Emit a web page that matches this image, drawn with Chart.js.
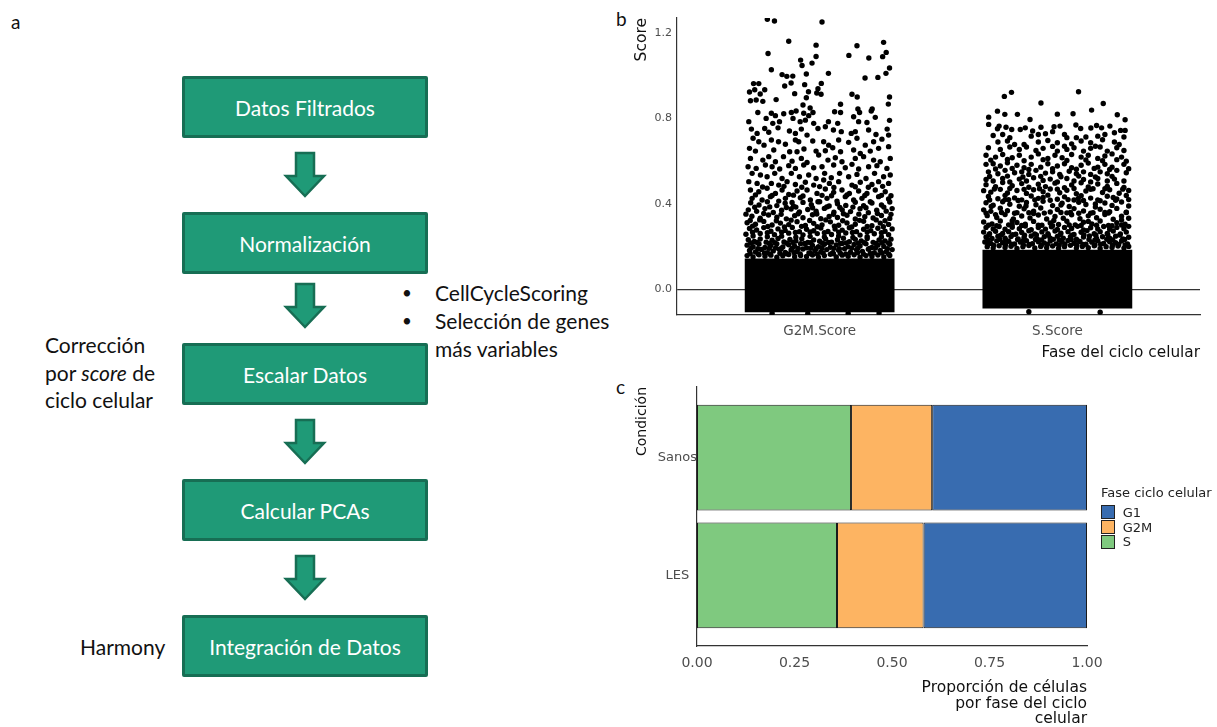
<!DOCTYPE html>
<html><head><meta charset="utf-8">
<script src="https://cdn.jsdelivr.net/npm/chart.js@4"></script>
<style>
body{margin:0;width:1217px;height:727px;background:#fff;position:relative;overflow:hidden;font-family:Lato,'Open Sans',sans-serif;}
.box{position:absolute;left:182px;width:246px;height:62px;box-sizing:border-box;background:#1f9a77;border:3px solid #176e54;border-radius:2px;color:#fff;font-size:21px;display:flex;align-items:center;justify-content:center;}
.side{position:absolute;font-size:21px;color:#111;line-height:27.5px;white-space:nowrap;}
.bul{position:absolute;font-size:17px;color:#111;line-height:27.5px;}
.plab{position:absolute;font-size:19px;color:#111;line-height:20px;}
canvas{position:absolute;}
#legend{position:absolute;left:1101px;top:485px;font-family:'DejaVu Sans';font-size:13px;color:#222;}
#legend .t{line-height:16px;margin-bottom:4px;white-space:nowrap;}
#legend .k{display:flex;align-items:center;height:14.7px;}
#legend .sw{width:14px;height:14px;box-sizing:border-box;border:1px solid #222;margin-right:7.7px;}
</style></head>
<body>
<div class="plab" style="left:11px;top:12px;">a</div>
<div class="plab" style="left:616px;top:9px;">b</div>
<div class="plab" style="left:616px;top:377px;">c</div>

<div id="flow"></div>
<svg id="arrows" width="620" height="727" style="position:absolute;left:0;top:0;"></svg>

<div class="bul" style="left:402px;top:279px;">•</div>
<div class="side" style="left:435px;top:279px;">CellCycleScoring</div>
<div class="bul" style="left:402px;top:307px;">•</div>
<div class="side" style="left:435px;top:307px;">Selección de genes<br>más variables</div>
<div class="side" style="left:45px;top:331px;">Corrección<br>por <i>score</i> de<br>ciclo celular</div>
<div class="side" style="left:80px;top:633px;">Harmony</div>

<canvas id="cb" width="592" height="370" style="left:625px;top:0px;"></canvas>
<canvas id="cc" width="592" height="352" style="left:625px;top:375px;"></canvas>
<div id="legend"></div>

<script>
// ---------- panel a: flowchart text ----------
const flowSteps = ['Datos Filtrados','Normalización','Escalar Datos','Calcular PCAs','Integración de Datos'];
const flowTops = [76, 212, 343, 479, 615];
const flow = document.getElementById('flow');
flowSteps.forEach((t,i)=>{
  const d=document.createElement('div'); d.className='box'; d.style.top=flowTops[i]+'px'; d.textContent=t; flow.appendChild(d);
});
const svg=document.getElementById('arrows');
[153,284,420,556].forEach(y0=>{
  const p=document.createElementNS('http://www.w3.org/2000/svg','polygon');
  const x0=285;
  const pts=[[11,0],[29,0],[29,23],[39,23],[20,43],[1,23],[11,23]].map(q=>(x0+q[0])+','+(y0+q[1])).join(' ');
  p.setAttribute('points',pts); p.setAttribute('fill','#1f9a77'); p.setAttribute('stroke','#176e54'); p.setAttribute('stroke-width','2.5');
  svg.appendChild(p);
});

// ---------- panel b data ----------
const scoreCategories = ['G2M.Score','S.Score'];
const scoreTicks = [0, 0.4, 0.8, 1.2];
const denseLow = [-0.107, -0.089];
const denseHigh = [0.145, 0.185];
const g2mPoints = [
[0.78,1.264],[0.81,1.256],[1.01,1.251],[0.87,1.161],[0.985,1.143],[1.157,1.14],[1.269,1.156],[0.783,1.104],[1.123,1.095],[0.985,1.09],
[1.207,1.083],[1.265,1.089],[1.28,1.109],[0.92,1.073],[0.926,1.048],[0.968,1.059],[0.797,1.028],[1.037,1.011],[0.944,1.008],[0.842,1.005],
[0.862,0.997],[0.887,0.998],[1.294,1.036],[1.279,1.011],[1.245,0.992],[1.191,0.989],[0.722,0.963],[0.744,0.963],[0.88,0.966],[0.853,0.952],
[0.937,0.958],[1.007,0.964],[0.993,0.939],[0.705,0.924],[0.727,0.934],[0.769,0.934],[0.75,0.914],[0.895,0.916],[0.953,0.925],[0.988,0.919],
[1.006,0.913],[0.944,0.897],[1.136,0.913],[1.158,0.9],[1.294,0.9],[0.709,0.883],[0.733,0.886],[0.761,0.88],[0.817,0.888],[0.93,0.863],
[1.088,0.866],[1.289,0.867],[0.96,0.849],[1.161,0.844],[1.221,0.844],
[0.74,0.828],[0.797,0.824],[0.814,0.813],[0.849,0.822],[0.881,0.828],[0.901,0.835],[0.933,0.824],[0.954,0.813],[0.972,0.828],[1.063,0.831],
[1.088,0.828],[1.143,0.808],[1.168,0.828],[1.217,0.835],[1.234,0.805],[0.702,0.785],[0.775,0.80],[0.803,0.777],[0.831,0.785],[0.888,0.80],
[0.918,0.785],[0.94,0.792],[0.975,0.777],[1.037,0.785],[1.076,0.777],[1.164,0.785],[1.199,0.781],[1.294,0.791],
[0.713,0.75],[0.737,0.73],[0.769,0.753],[0.786,0.735],[0.825,0.756],[0.873,0.741],[0.898,0.73],[0.923,0.75],[0.947,0.722],[0.993,0.753],
[1.024,0.761],[1.058,0.746],[1.091,0.738],[1.133,0.73],[1.15,0.738],[1.206,0.746],[1.237,0.725],[1.284,0.75],[1.29,0.722],[0.72,0.707],
[0.744,0.691],[0.766,0.675],[0.797,0.699],[0.827,0.691],[0.856,0.679],[0.898,0.699],[0.912,0.691],[0.971,0.694],[1.017,0.691],[1.038,0.675],
[1.08,0.699],[1.122,0.688],[1.157,0.707],[1.192,0.675],[1.227,0.691],[1.262,0.703],[0.705,0.66],[0.73,0.647],[0.807,0.652],[0.874,0.644],
[0.905,0.644],[0.934,0.657],[0.985,0.647],[1.024,0.649],[1.055,0.663],[1.088,0.644],[1.143,0.652],[1.171,0.636],[1.213,0.647],[1.248,0.66],[1.29,0.668],
[0.709,0.613],[0.761,0.605],[0.786,0.621],[0.814,0.597],[0.848,0.621],[0.884,0.60],[0.923,0.613],[0.947,0.594],[0.996,0.629],[1.035,0.605],
[1.066,0.616],[1.094,0.597],[1.15,0.613],[1.185,0.621],[1.227,0.605],[1.255,0.597],[1.297,0.613],[0.699,0.574],[0.733,0.566],[0.772,0.582],
[0.80,0.574],[0.832,0.563],[0.87,0.579],[0.898,0.566],[0.933,0.582],[0.975,0.569],[1.01,0.574],[1.059,0.582],[1.108,0.569],[1.136,0.585],
[1.164,0.563],[1.206,0.574],[1.241,0.579],[1.283,0.566],
[0.716,0.543],[0.751,0.535],[0.779,0.527],[0.811,0.543],[0.842,0.519],[0.881,0.543],[0.915,0.527],[0.954,0.535],[0.985,0.519],[1.021,0.543],
[1.049,0.522],[1.084,0.543],[1.122,0.527],[1.157,0.538],[1.195,0.519],[1.231,0.543],[1.269,0.527],[1.297,0.535],[0.702,0.504],[0.737,0.496],
[0.797,0.496],[0.828,0.488],[0.863,0.504],[0.898,0.491],[0.94,0.501],[0.975,0.488],[1.017,0.512],[1.041,0.496],[1.08,0.504],[1.136,0.488],
[1.171,0.501],[1.22,0.491],[1.248,0.504],[1.29,0.496],
[0.76,0.479],[0.85,0.482],[0.925,0.478],[1.0,0.481],[1.06,0.477],[1.15,0.48],[1.205,0.478],[1.265,0.482],
[0.709,0.465],[0.744,0.457],[0.779,0.473],[0.814,0.449],[0.842,0.465],[0.87,0.444],[0.905,0.46],[0.947,0.465],[0.989,0.449],[1.024,0.47],
[1.059,0.454],[1.094,0.465],[1.125,0.449],[1.164,0.46],[1.199,0.449],[1.234,0.465],[1.276,0.457],
[0.73,0.442],[0.8,0.439],[0.89,0.441],[0.93,0.437],[1.01,0.44],[1.05,0.438],[1.115,0.442],[1.19,0.439],[1.26,0.44],[1.3,0.438],
[0.716,0.426],[0.758,0.418],[0.793,0.434],
[0.828,0.413],[0.856,0.426],[0.884,0.407],[0.919,0.429],[0.961,0.418],[0.993,0.41],[1.031,0.426],[1.073,0.413],[1.108,0.434],[1.143,0.418],
[1.178,0.426],[1.213,0.41],[1.248,0.434],[1.29,0.423],
[0.71,0.405],[0.745,0.395],[0.78,0.41],[0.82,0.392],[0.855,0.403],[0.89,0.389],[0.93,0.407],[0.965,0.396],[1.0,0.41],[1.04,0.39],[1.075,0.401],
[1.11,0.393],[1.15,0.408],[1.185,0.391],[1.22,0.404],[1.26,0.395],[1.295,0.409],
[0.727,0.384],[0.79,0.386],[0.86,0.383],[0.9,0.385],[0.97,0.382],[1.03,0.386],[1.085,0.383],[1.14,0.385],[1.195,0.382],[1.27,0.385],
[0.70,0.372],[0.735,0.365],[0.77,0.378],[0.805,0.36],[0.84,0.37],[0.88,0.376],[0.915,0.362],[0.95,0.374],[0.985,0.366],[1.02,0.379],[1.06,0.361],
[1.095,0.372],[1.13,0.364],[1.17,0.377],[1.205,0.359],[1.24,0.37],[1.28,0.366],[1.305,0.378],
[0.69,0.352],[0.765,0.355],[0.838,0.351],[0.91,0.354],[0.988,0.353],[1.058,0.351],[1.1,0.354],[1.165,0.352],[1.243,0.355],[1.3,0.351],
[0.715,0.342],[0.75,0.333],[0.785,0.348],[0.82,0.338],[0.86,0.33],[0.895,0.345],[0.93,0.335],[0.97,0.349],[1.005,0.331],[1.04,0.341],[1.075,0.336],
[1.115,0.347],[1.15,0.329],[1.19,0.34],[1.225,0.334],[1.26,0.346],[1.295,0.332],
[0.708,0.322],[0.748,0.325],[0.818,0.321],[0.88,0.324],[0.958,0.322],[1.026,0.325],[1.097,0.321],[1.168,0.323],[1.238,0.325],[1.275,0.321],
[0.695,0.312],[0.73,0.305],[0.765,0.318],[0.8,0.301],[0.835,0.31],[0.87,0.303],[0.905,0.317],[0.94,0.299],[0.975,0.309],[1.01,0.302],[1.045,0.316],
[1.08,0.3],[1.115,0.311],[1.15,0.305],[1.185,0.319],[1.22,0.298],[1.255,0.31],[1.29,0.304],
[0.718,0.296],[0.782,0.294],[0.852,0.292],[0.924,0.295],[0.99,0.293],[1.062,0.296],[1.135,0.292],[1.2,0.294],[1.268,0.293],
[0.705,0.285],[0.735,0.278],[0.765,0.289],[0.795,0.272],[0.825,0.283],[0.855,0.276],[0.885,0.29],[0.915,0.27],[0.945,0.281],[0.975,0.274],[1.005,0.287],
[1.035,0.271],[1.065,0.282],[1.095,0.277],[1.125,0.288],[1.155,0.27],[1.185,0.281],[1.215,0.275],[1.245,0.286],[1.275,0.272],[1.305,0.283],
[0.718,0.267],[0.78,0.265],[0.84,0.268],[0.898,0.266],[0.96,0.269],[1.02,0.265],[1.08,0.268],[1.138,0.266],[1.2,0.269],[1.26,0.265],
[0.69,0.258],[0.72,0.25],[0.75,0.262],[0.78,0.246],[0.81,0.256],[0.84,0.249],[0.87,0.263],[0.9,0.244],[0.93,0.255],[0.96,0.248],[0.99,0.261],
[1.02,0.245],[1.05,0.257],[1.08,0.25],[1.11,0.264],[1.14,0.243],[1.17,0.254],[1.2,0.247],[1.23,0.26],[1.26,0.245],[1.29,0.256],
[0.70,0.232],[0.725,0.224],[0.75,0.236],[0.775,0.221],[0.8,0.23],[0.825,0.238],[0.85,0.222],[0.875,0.233],[0.9,0.226],[0.925,0.237],[0.95,0.22],
[0.975,0.231],[1.0,0.225],[1.025,0.236],[1.05,0.221],[1.075,0.232],[1.1,0.239],[1.125,0.223],[1.15,0.234],[1.175,0.227],[1.2,0.238],[1.225,0.22],
[1.25,0.231],[1.275,0.226],[1.3,0.235],
[0.71,0.217],[0.737,0.219],[0.788,0.215],[0.812,0.218],[0.862,0.216],[0.888,0.219],[0.937,0.215],[0.962,0.218],[1.012,0.216],[1.038,0.219],
[1.088,0.215],[1.112,0.217],[1.162,0.216],[1.188,0.218],[1.237,0.215],[1.262,0.218],[1.29,0.217],
[0.695,0.207],[0.72,0.2],[0.745,0.212],[0.77,0.196],[0.795,0.205],[0.82,0.213],[0.845,0.198],[0.87,0.209],[0.895,0.202],[0.92,0.214],[0.945,0.195],
[0.97,0.206],[0.995,0.2],[1.02,0.211],[1.045,0.197],[1.07,0.208],[1.095,0.215],[1.12,0.199],[1.145,0.21],[1.17,0.203],[1.195,0.213],[1.22,0.196],
[1.245,0.207],[1.27,0.201],[1.295,0.211],
[0.712,0.193],[0.74,0.19],[0.788,0.192],[0.815,0.194],[0.838,0.19],[0.885,0.193],[0.91,0.191],[0.962,0.192],[0.985,0.19],[1.01,0.194],
[1.06,0.192],[1.083,0.19],[1.135,0.193],[1.16,0.191],[1.21,0.192],[1.235,0.194],[1.285,0.19],
[0.705,0.182],[0.73,0.175],[0.755,0.187],[0.78,0.171],[0.805,0.18],[0.83,0.188],[0.855,0.173],[0.88,0.184],[0.905,0.177],[0.93,0.189],[0.955,0.17],
[0.98,0.181],[1.005,0.175],[1.03,0.186],[1.055,0.172],[1.08,0.183],[1.105,0.19],[1.13,0.174],[1.155,0.185],[1.18,0.178],[1.205,0.188],[1.23,0.171],
[1.255,0.182],[1.28,0.176],[1.305,0.186],
[0.708,0.168],[0.742,0.166],[0.768,0.17],[0.792,0.165],[0.833,0.169],[0.862,0.167],[0.893,0.171],[0.918,0.166],[0.962,0.168],[0.99,0.165],
[1.015,0.17],[1.058,0.167],[1.087,0.169],[1.11,0.166],[1.16,0.171],[1.185,0.165],[1.213,0.168],[1.262,0.17],[1.29,0.166],
[0.695,0.158],[0.72,0.152],[0.745,0.162],[0.77,0.155],[0.795,0.16],[0.82,0.15],[0.845,0.157],[0.87,0.163],[0.895,0.153],[0.92,0.159],[0.945,0.154],
[0.97,0.161],[0.995,0.151],[1.02,0.158],[1.045,0.164],[1.07,0.152],[1.095,0.16],[1.12,0.155],[1.145,0.162],[1.17,0.15],[1.195,0.158],[1.22,0.154],
[1.245,0.161],[1.27,0.152],[1.295,0.159],
[0.80,-0.112],[0.95,-0.114],[1.12,-0.113],[1.25,-0.111]
];
const sPoints = [
[1.777,0.903],[1.807,0.922],[2.089,0.925],[1.931,0.872],[2.193,0.87],[1.748,0.834],[1.779,0.819],[1.832,0.819],[2.0,0.82],[2.066,0.822],
[2.144,0.839],[2.252,0.817],[1.711,0.806],[1.885,0.795],[2.285,0.794],[1.711,0.772],[1.755,0.764],[1.748,0.752],[1.784,0.759],[1.808,0.748],
[1.844,0.748],[1.865,0.756],[1.896,0.741],[1.931,0.759],[1.986,0.761],[2.011,0.764],[2.078,0.769],[2.098,0.753],[2.141,0.755],[2.165,0.767],
[2.186,0.756],[2.221,0.764],[2.266,0.744],[2.285,0.744],
[1.73,0.72],[1.77,0.725],[1.80,0.71],[1.89,0.717],[1.92,0.725],[1.95,0.728],[1.98,0.738],[2.03,0.725],[2.04,0.71],[2.08,0.71],[2.12,0.713],
[2.17,0.717],[2.20,0.725],[2.24,0.733],[2.28,0.713],
[1.75,0.69],[1.79,0.694],[1.82,0.678],[1.86,0.678],[1.92,0.69],[1.96,0.697],[2.00,0.686],[2.03,0.67],[2.06,0.681],[2.10,0.694],[2.14,0.686],
[2.16,0.67],[2.19,0.70],[2.24,0.69],[2.26,0.678],
[1.71,0.663],[1.76,0.655],[1.80,0.666],[1.84,0.655],[1.87,0.666],[1.91,0.65],[1.94,0.66],[1.98,0.669],[2.00,0.647],[2.04,0.655],[2.07,0.663],
[2.11,0.647],[2.14,0.66],[2.18,0.666],[2.21,0.647],[2.25,0.663],[2.28,0.65],
[1.70,0.628],[1.74,0.619],[1.77,0.631],[1.81,0.616],[1.84,0.628],[1.89,0.619],[1.92,0.634],[1.96,0.613],[1.99,0.628],[2.02,0.616],[2.06,0.631],
[2.10,0.619],[2.13,0.628],[2.17,0.613],[2.20,0.624],[2.23,0.634],[2.27,0.619],[2.29,0.60],
[1.72,0.605],[1.79,0.608],[1.86,0.602],[1.94,0.607],[2.04,0.603],[2.12,0.606],[2.19,0.602],[2.25,0.607],
[1.70,0.585],[1.73,0.588],[1.76,0.577],[1.79,0.592],[1.83,0.581],[1.86,0.569],[1.89,0.585],[1.93,0.572],[1.96,0.588],[2.00,0.577],[2.03,0.588],
[2.06,0.569],[2.10,0.581],[2.13,0.591],[2.17,0.572],[2.20,0.585],[2.23,0.572],[2.28,0.585],
[1.74,0.563],[1.81,0.566],[1.88,0.561],[1.98,0.565],[2.08,0.562],[2.155,0.566],[2.22,0.561],[2.3,0.565],
[1.71,0.55],[1.75,0.541],[1.78,0.557],[1.82,0.546],[1.85,0.55],[1.88,0.538],[1.91,0.557],[1.95,0.544],[1.98,0.55],[2.01,0.538],[2.05,0.553],
[2.08,0.541],[2.11,0.55],[2.14,0.538],[2.18,0.55],[2.21,0.541],[2.25,0.557],[2.29,0.546],
[1.715,0.528],[1.79,0.53],[1.855,0.526],[1.93,0.529],[2.015,0.527],[2.09,0.53],[2.16,0.526],[2.23,0.529],
[1.70,0.514],[1.73,0.507],[1.77,0.519],[1.80,0.503],[1.84,0.516],[1.87,0.507],[1.90,0.522],[1.94,0.51],[1.97,0.516],[2.00,0.503],[2.04,0.519],
[2.07,0.507],[2.11,0.514],[2.14,0.503],[2.17,0.519],[2.21,0.507],[2.24,0.516],[2.28,0.507],
[1.70,0.49],[1.74,0.48],[1.77,0.50],[1.81,0.485],[1.85,0.495],[1.88,0.478],[1.92,0.492],[1.95,0.481],[1.99,0.497],[2.03,0.476],[2.06,0.489],
[2.10,0.499],[2.13,0.479],[2.17,0.493],[2.21,0.482],[2.25,0.496],[2.28,0.477],
[1.735,0.47],[1.8,0.472],[1.86,0.468],[1.925,0.471],[2.0,0.469],[2.07,0.472],[2.14,0.468],[2.2,0.471],[2.275,0.469],
[1.69,0.462],[1.72,0.455],[1.76,0.468],[1.79,0.451],[1.83,0.463],[1.87,0.449],[1.90,0.466],[1.94,0.457],[1.97,0.47],[2.01,0.452],[2.04,0.464],
[2.08,0.448],[2.12,0.46],[2.15,0.471],[2.19,0.453],[2.22,0.466],[2.26,0.45],[2.30,0.463],
[1.71,0.435],[1.75,0.424],[1.78,0.44],[1.82,0.428],[1.85,0.419],[1.89,0.437],[1.92,0.426],[1.96,0.441],[2.00,0.422],[2.03,0.433],[2.07,0.418],
[2.10,0.438],[2.14,0.427],[2.18,0.415],[2.21,0.436],[2.25,0.423],[2.29,0.439],
[1.722,0.388],[1.795,0.42],[1.868,0.39],[1.94,0.43],[2.015,0.395],[2.088,0.425],[2.16,0.4],[2.235,0.43],
[1.715,0.418],[1.78,0.42],[1.835,0.416],[1.905,0.419],[1.97,0.417],[2.045,0.42],[2.11,0.416],[2.17,0.419],[2.245,0.417],[2.3,0.42],
[1.70,0.405],[1.73,0.394],[1.77,0.41],[1.80,0.398],[1.84,0.389],[1.87,0.407],[1.91,0.396],[1.94,0.412],[1.98,0.392],[2.02,0.403],[2.05,0.388],
[2.09,0.408],[2.12,0.397],[2.16,0.385],[2.20,0.404],[2.23,0.393],[2.27,0.409],[2.30,0.39],
[1.69,0.372],[1.72,0.365],[1.76,0.38],[1.79,0.368],[1.83,0.359],[1.86,0.377],[1.90,0.366],[1.93,0.381],[1.97,0.362],[2.00,0.374],[2.04,0.358],
[2.07,0.378],[2.11,0.367],[2.14,0.356],[2.18,0.375],[2.22,0.363],[2.25,0.379],[2.29,0.361],
[1.7,0.357],[1.765,0.36],[1.82,0.356],[1.88,0.359],[1.945,0.357],[2.015,0.36],[2.09,0.356],[2.15,0.359],[2.215,0.357],[2.29,0.36],
[1.74,0.35],[1.81,0.32],[1.9,0.355],[1.985,0.322],[2.055,0.36],[2.13,0.318],[2.2,0.36],[2.27,0.325],
[1.705,0.345],[1.745,0.336],[1.78,0.35],[1.815,0.33],[1.85,0.343],[1.885,0.334],[1.92,0.348],[1.955,0.329],[1.99,0.341],[2.025,0.333],[2.06,0.349],
[2.095,0.331],[2.13,0.344],[2.165,0.335],[2.2,0.35],[2.235,0.328],[2.27,0.342],[2.3,0.333],
[1.69,0.315],[1.725,0.306],[1.76,0.32],[1.795,0.302],[1.83,0.313],[1.865,0.305],[1.9,0.318],[1.935,0.3],[1.97,0.311],[2.005,0.304],[2.04,0.319],
[2.075,0.302],[2.11,0.314],[2.145,0.306],[2.18,0.32],[2.215,0.299],[2.25,0.312],[2.285,0.305],
[1.71,0.3],[1.745,0.298],[1.81,0.301],[1.85,0.299],[1.92,0.3],[1.98,0.298],[2.05,0.301],[2.1,0.299],[2.165,0.3],[2.23,0.298],[2.27,0.301],
[1.70,0.29],[1.73,0.283],[1.755,0.294],[1.78,0.281],[1.81,0.291],[1.84,0.284],[1.865,0.296],[1.89,0.279],[1.92,0.289],[1.95,0.282],[1.975,0.293],
[2.0,0.28],[2.03,0.29],[2.06,0.285],[2.085,0.295],[2.11,0.278],[2.14,0.288],[2.17,0.283],[2.195,0.294],[2.22,0.281],[2.25,0.29],[2.28,0.284],[2.3,0.295],
[1.69,0.268],[1.715,0.26],[1.74,0.272],[1.77,0.262],[1.795,0.27],[1.825,0.258],[1.85,0.266],[1.88,0.274],[1.905,0.259],[1.935,0.269],[1.96,0.261],
[1.99,0.273],[2.015,0.263],[2.045,0.27],[2.07,0.257],[2.1,0.267],[2.125,0.275],[2.155,0.26],[2.18,0.27],[2.21,0.262],[2.235,0.273],[2.265,0.259],[2.29,0.268],
[1.712,0.255],[1.762,0.253],[1.812,0.256],[1.862,0.254],[1.912,0.255],[1.962,0.253],[2.012,0.256],[2.062,0.254],[2.112,0.255],[2.162,0.253],[2.212,0.256],[2.262,0.254],
[1.70,0.245],[1.725,0.238],[1.75,0.249],[1.78,0.24],[1.805,0.247],[1.835,0.236],[1.86,0.244],[1.89,0.25],[1.915,0.237],[1.945,0.246],[1.97,0.239],
[2.0,0.248],[2.025,0.24],[2.055,0.247],[2.08,0.235],[2.11,0.245],[2.135,0.25],[2.165,0.238],[2.19,0.246],[2.22,0.24],[2.245,0.249],[2.275,0.236],[2.3,0.244],
[1.708,0.232],[1.758,0.234],[1.783,0.231],[1.833,0.233],[1.858,0.23],[1.908,0.233],[1.933,0.231],[1.983,0.234],[2.008,0.231],[2.058,0.233],
[2.083,0.23],[2.133,0.233],[2.158,0.231],[2.208,0.234],[2.233,0.231],[2.283,0.233],
[1.695,0.222],[1.72,0.215],[1.745,0.227],[1.77,0.218],[1.795,0.225],[1.82,0.212],[1.845,0.221],[1.87,0.228],[1.895,0.214],[1.92,0.223],[1.945,0.217],
[1.97,0.226],[1.995,0.213],[2.02,0.222],[2.045,0.229],[2.07,0.216],[2.095,0.224],[2.12,0.211],[2.145,0.221],[2.17,0.227],[2.195,0.215],[2.22,0.223],
[2.245,0.218],[2.27,0.226],[2.295,0.213],
[1.708,0.21],[1.732,0.207],[1.782,0.209],[1.808,0.211],[1.857,0.208],[1.882,0.21],[1.932,0.207],[1.958,0.21],[2.008,0.208],[2.032,0.211],
[2.082,0.207],[2.108,0.21],[2.158,0.208],[2.182,0.211],[2.232,0.207],[2.258,0.21],[2.285,0.208],
[1.705,0.2],[1.73,0.193],[1.755,0.204],[1.78,0.196],[1.805,0.202],[1.83,0.191],[1.855,0.199],[1.88,0.205],[1.905,0.194],[1.93,0.201],[1.955,0.195],
[1.98,0.203],[2.005,0.192],[2.03,0.2],[2.055,0.206],[2.08,0.193],[2.105,0.201],[2.13,0.195],[2.155,0.204],[2.18,0.191],[2.205,0.2],[2.23,0.196],
[2.255,0.203],[2.28,0.193],[2.3,0.201],
[1.88,-0.105],[2.18,-0.107]
];

// ---------- panel c data ----------
const conditions = ['Sanos','LES'];
const phases = ['S','G2M','G1'];
const phaseColors = ['#7fc97f','#fdb462','#386cb0'];
const propS = [0.395, 0.359];
const propG2M = [0.208, 0.222];
const propG1 = [0.397, 0.419];
const propTicks = [0, 0.25, 0.5, 0.75, 1];
const legendOrder = ['G1','G2M','S'];

const DV = 'DejaVu Sans';
const tickGray = '#4d4d4d';

new Chart(document.getElementById('cb'), {
  type: 'scatter',
  data: { datasets: [
    { type:'bar', data: scoreCategories.map((c,i)=>({x:i+1, y:[denseLow[i], denseHigh[i]]})),
      backgroundColor:'#000', borderWidth:0, barPercentage:0.63, categoryPercentage:1, order:2 },
    { type:'scatter', data: g2mPoints.concat(sPoints).map(p=>({x:p[0], y:p[1]})),
      pointRadius:2.7, pointBackgroundColor:'#000', pointBorderWidth:0, order:1 }
  ]},
  options: {
    responsive:false, animation:false, events:[],
    layout:{padding:{top:18, right:17, left:0, bottom:0}},
    plugins:{legend:{display:false}, tooltip:{enabled:false}},
    scales:{
      x:{type:'linear', min:0.4, max:2.6, offset:false,
        afterBuildTicks: s=>{ s.ticks = scoreCategories.map((c,i)=>({value:i+1})); },
        ticks:{callback:v=>scoreCategories[Math.round(v)-1], font:{family:DV,size:13.5}, color:tickGray, padding:8, maxRotation:0, autoSkip:false},
        grid:{display:false, drawTicks:false},
        border:{display:true, color:'#333', width:1.2},
        title:{display:true, text:'Fase del ciclo celular', align:'end', font:{family:DV,size:15.3}, color:'#111', padding:{top:0,bottom:7.8}},
        afterFit: s=>{ s.height = 55; }
      },
      y:{type:'linear', min:-0.12, max:1.27,
        afterBuildTicks: s=>{ s.ticks = scoreTicks.map(v=>({value:v})); },
        ticks:{callback:v=>v.toFixed(1), font:{family:DV,size:11}, color:tickGray, padding:5},
        grid:{display:true, drawTicks:false, lineWidth:1.2, color:c=>(c.tick && c.tick.value===0) ? '#333' : 'rgba(0,0,0,0)'},
        border:{display:true, color:'#333', width:1.2},
        title:{display:true, text:'Score', align:'end', font:{family:DV,size:15.5}, color:'#111', padding:{top:7.7,bottom:0}},
        afterFit: s=>{ s.width = 52; }
      }
    }
  }
});

// Sanos on top: position n - i on the vertical (index) axis
const nCond = conditions.length;
const propSeries = [propS, propG2M, propG1];
new Chart(document.getElementById('cc'), {
  type:'bar',
  data:{ datasets: phases.map((ph,k)=>({
    label: ph,
    data: conditions.map((c,i)=>({x: propSeries[k][i], y: nCond - i})),
    backgroundColor: phaseColors[k], borderColor:'#1a1a1a', borderWidth:1, borderSkipped:false,
    barPercentage:0.9, categoryPercentage:1, grouped:false
  }))},
  options:{
    indexAxis:'y', responsive:false, animation:false, events:[],
    layout:{padding:{top:12, right:130, left:0, bottom:0}},
    plugins:{legend:{display:false}, tooltip:{enabled:false}},
    scales:{
      x:{type:'linear', stacked:true, min:0, max:1,
        afterBuildTicks: s=>{ s.ticks = propTicks.map(v=>({value:v})); },
        ticks:{callback:v=>v.toFixed(2), font:{family:DV,size:14}, color:tickGray, padding:9, maxRotation:0, autoSkip:false},
        grid:{display:false, drawTicks:false},
        border:{display:true, color:'#333', width:1.2},
        title:{display:true, text:['Proporción de células','por fase del ciclo','celular'], align:'end', font:{family:DV,size:15.5, lineHeight:1.0}, color:'#111', padding:{top:0,bottom:0}},
        afterFit: s=>{ s.height = 81; }
      },
      y:{type:'linear', min:0.4, max:2.6, offset:false,
        afterBuildTicks: s=>{ s.ticks = conditions.map((c,i)=>({value:nCond - i})); },
        ticks:{callback:v=>conditions[nCond - Math.round(v)], font:{family:DV,size:13}, color:tickGray, padding:0, crossAlign:'center'},
        grid:{display:false, drawTicks:false},
        border:{display:true, color:'#333', width:1.2},
        title:{display:true, text:'Condición', align:'end', font:{family:DV,size:14}, color:'#111', padding:{top:8.6,bottom:0}},
        afterFit: s=>{ s.width = 72; }
      }
    }
  }
});

// legend (built from the phase arrays)
const lg = document.getElementById('legend');
lg.innerHTML = '<div class="t">Fase ciclo celular</div>' + legendOrder.map(ph=>{
  const col = phaseColors[phases.indexOf(ph)];
  return '<div class="k"><div class="sw" style="background:'+col+'"></div>'+ph+'</div>';
}).join('');
</script>
</body></html>
